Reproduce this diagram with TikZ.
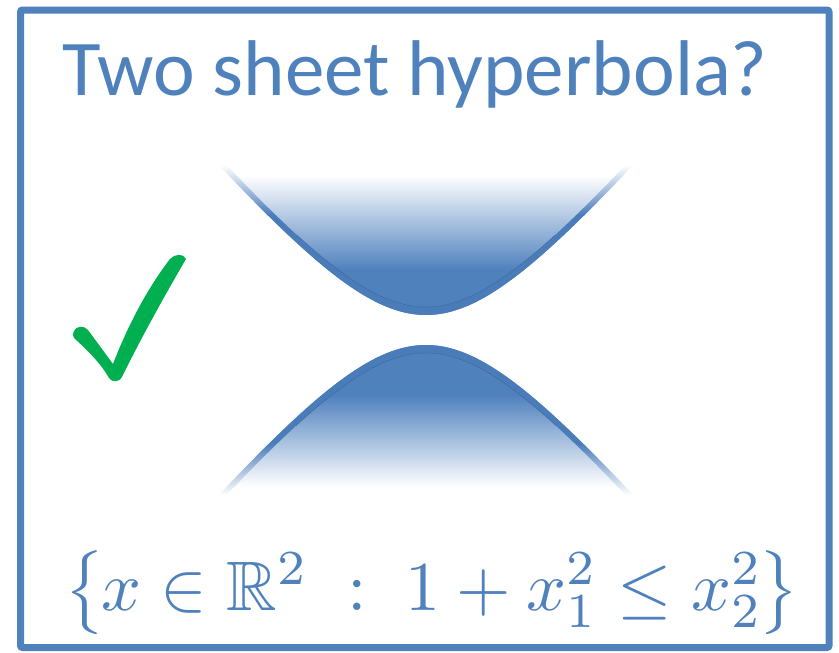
\documentclass[tikz,border=0pt]{standalone}
\usepackage{amssymb}
\usepackage{graphicx}
\usepackage{fontspec}
\setmainfont{Carlito}
\definecolor{hblue}{HTML}{4F81BD}
\definecolor{band}{HTML}{4A7CBA}
\definecolor{hdark}{HTML}{3A5F8E}
\definecolor{chk}{HTML}{00B050}
\tikzset{
  frame/.style={draw=hblue, line width=7pt, rounded corners=2pt},
  titletext/.style={text=hblue, anchor=base, inner sep=0pt, font=\fontsize{79}{90}\selectfont},
  mathtext/.style={text=hblue, anchor=base west, inner sep=0pt},
  thinline/.style={draw=hdark, line width=0.5pt, opacity=0.6}
}
\begin{document}
\begin{tikzpicture}[x=1pt,y=-1pt,
  declare function={hf(\t)=100*sqrt(1.307*1.307+(0.012*\t)*(0.012*\t))-130.7;}]
\useasboundingbox (0,0) rectangle (839,653);
\draw[frame] (20.5,10) rectangle (829,647.5);

\node[titletext] (title) at (415,95) {Two sheet hyperbola?};

% upper sheet fill
\begin{scope}
\clip plot[domain=-206:206, samples=121] ({426+\x},{315-hf(\x)}) -- (640,140) -- (212,140) -- cycle;
\shade[top color=white, bottom color=hblue] (200,175) rectangle (660,270);
\fill[hblue] (200,270) rectangle (660,330);
\end{scope}
% upper band
\begin{scope}
\clip plot[domain=-206:206, samples=121] ({426+\x},{315-hf(\x)}) -- plot[domain=206:-206, samples=121] ({426+\x},{307-hf(\x)}) -- cycle;
\shade[top color=white, bottom color=band] (200,165) rectangle (660,215);
\fill[band] (200,215) rectangle (660,330);
\end{scope}
\begin{scope}
\clip (200,235) rectangle (660,330);
\draw[thinline] plot[domain=-206:206, samples=121] ({426+\x},{307-hf(\x)});
\end{scope}

% lower sheet fill
\begin{scope}
\clip plot[domain=-206:206, samples=121] ({426+\x},{345+hf(\x)}) -- (640,500) -- (212,500) -- cycle;
\fill[hblue] (200,330) rectangle (660,395);
\shade[top color=hblue, bottom color=white] (200,395) rectangle (660,487);
\end{scope}
% lower band
\begin{scope}
\clip plot[domain=-206:206, samples=121] ({426+\x},{345+hf(\x)}) -- plot[domain=206:-206, samples=121] ({426+\x},{353+hf(\x)}) -- cycle;
\fill[band] (200,330) rectangle (660,443);
\shade[top color=band, bottom color=white] (200,443) rectangle (660,495);
\end{scope}
\begin{scope}
\clip (200,330) rectangle (660,425);
\draw[thinline] plot[domain=-206:206, samples=121] ({426+\x},{353+hf(\x)});
\end{scope}

% check mark
\fill[chk] (74,331) .. controls (76,326) and (84,325) .. (88,330) -- (113,364)
  .. controls (130,320) and (150,285) .. (170,259)
  .. controls (174,254) and (184,253) .. (186,259)
  .. controls (165,295) and (140,340) .. (122,377)
  .. controls (120,382) and (112,383) .. (109,378)
  .. controls (100,362) and (85,348) .. (74,338)
  .. controls (72,336) and (73,333) .. (74,331) -- cycle;

\node[mathtext] (set) at (64,610) {\scalebox{7.0}{$\left\{\mkern-1mu x\in\mathbb{R}^2 \;:\; 1+x_1^2\le x_2^2\mkern-1mu\right\}$}};
\end{tikzpicture}
\end{document}
